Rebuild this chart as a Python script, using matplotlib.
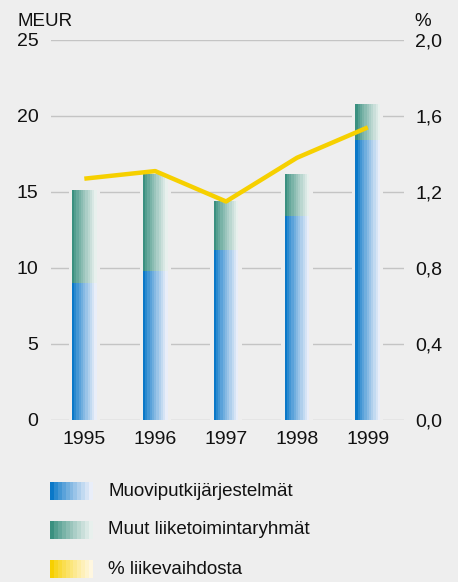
import matplotlib
matplotlib.use("Agg")
import matplotlib.pyplot as plt
import numpy as np
from matplotlib.colors import to_rgb
from matplotlib.patches import Rectangle

plt.rcParams["font.family"] = ["Liberation Sans", "DejaVu Sans"]

# -- Data ----------------------------------------------------------------------
years = ["1995", "1996", "1997", "1998", "1999"]
muoviputki = [9.0, 9.8, 11.2, 13.4, 18.4]
muut = [6.1, 6.4, 3.2, 2.8, 2.4]
pct_liikevaihto = [1.27, 1.31, 1.15, 1.38, 1.54]

left_ticks = [0, 5, 10, 15, 20, 25]
right_ticks = ["0,0", "0,4", "0,8", "1,2", "1,6", "2,0"]
legend_labels = ["Muoviputkijärjestelmät", "Muut liiketoimintaryhmät", "% liikevaihdosta"]

BG = "#eeeeee"
TXT = "#111111"
BLUE = ("#0a78c8", "#e9eef9")
GREEN = ("#3a9080", "#e8f0ed")
YELLOW = ("#f7d000", "#fff7e0")
LINE_Y = "#f6d000"
N_STEPS = 11


def band_colors(pair, n=N_STEPS):
    c0, c1 = np.array(to_rgb(pair[0])), np.array(to_rgb(pair[1]))
    t = np.linspace(0, 1, n) ** 0.85
    return [tuple(c0 + (c1 - c0) * ti) for ti in t]


fig = plt.figure(figsize=(4.58, 5.82), dpi=100, facecolor=BG)
ax = fig.add_axes([0.1114, 0.2784, 0.7706, 0.6529])
ax.set_facecolor(BG)

x = np.arange(len(years))
width = 0.35

# gridlines, interrupted around the bars
for v in left_ticks:
    ax.axhline(v, color="#c4c4c4", lw=1.0, zorder=1)
ax.bar(x, np.array(muoviputki) + np.array(muut), width=width + 0.09,
       color=BG, zorder=2)

# stepped horizontal gradient bars
step_w = width / N_STEPS
for i, (b, g) in enumerate(zip(band_colors(BLUE), band_colors(GREEN))):
    xs = x - width / 2 + step_w * (i + 0.5)
    ax.bar(xs, muoviputki, width=step_w * 1.02, color=b, zorder=3, lw=0)
    ax.bar(xs, muut, bottom=muoviputki, width=step_w * 1.02, color=g,
           zorder=3, lw=0)

ax.set_xlim(-0.47, 4.51)
ax.set_ylim(0, 25)
ax.set_yticks(left_ticks)
ax.set_xticks(x)
ax.set_xticklabels(years)
ax.tick_params(axis="both", length=0, labelsize=14, colors=TXT)
ax.tick_params(axis="y", pad=9)
ax.tick_params(axis="x", pad=8)
for s in ax.spines.values():
    s.set_visible(False)

ax2 = ax.twinx()
ax2.set_ylim(0, 2.0)
ax2.set_yticks(np.linspace(0, 2.0, 6))
ax2.set_yticklabels(right_ticks)
ax2.tick_params(axis="y", length=0, labelsize=14, colors=TXT, pad=8)
for s in ax2.spines.values():
    s.set_visible(False)
ax2.plot(x, pct_liikevaihto, color=LINE_Y, lw=3.2, zorder=5,
         solid_capstyle="butt")

fig.text(0.039, 0.963, "MEUR", fontsize=13.5, color=TXT, va="center")
fig.text(0.904, 0.963, "%", fontsize=13.5, color=TXT, va="center")

# legend with gradient swatches
sw_x, sw_w, sw_h = 50 / 458, 43 / 458, 18 / 582
for k, (pair, label) in enumerate(zip([BLUE, GREEN, YELLOW], legend_labels)):
    y0 = 1 - (500 + 39 * k) / 582
    cols = band_colors(pair)
    for i, c in enumerate(cols):
        fig.patches.append(Rectangle((sw_x + sw_w / N_STEPS * i, y0),
                                     sw_w / N_STEPS * 1.05, sw_h,
                                     transform=fig.transFigure,
                                     facecolor=c, lw=0))
    fig.text(108 / 458, y0 + sw_h / 2, label, fontsize=13.5,
             color=TXT, va="center")

fig.savefig("out.png", dpi=100, facecolor=BG)
